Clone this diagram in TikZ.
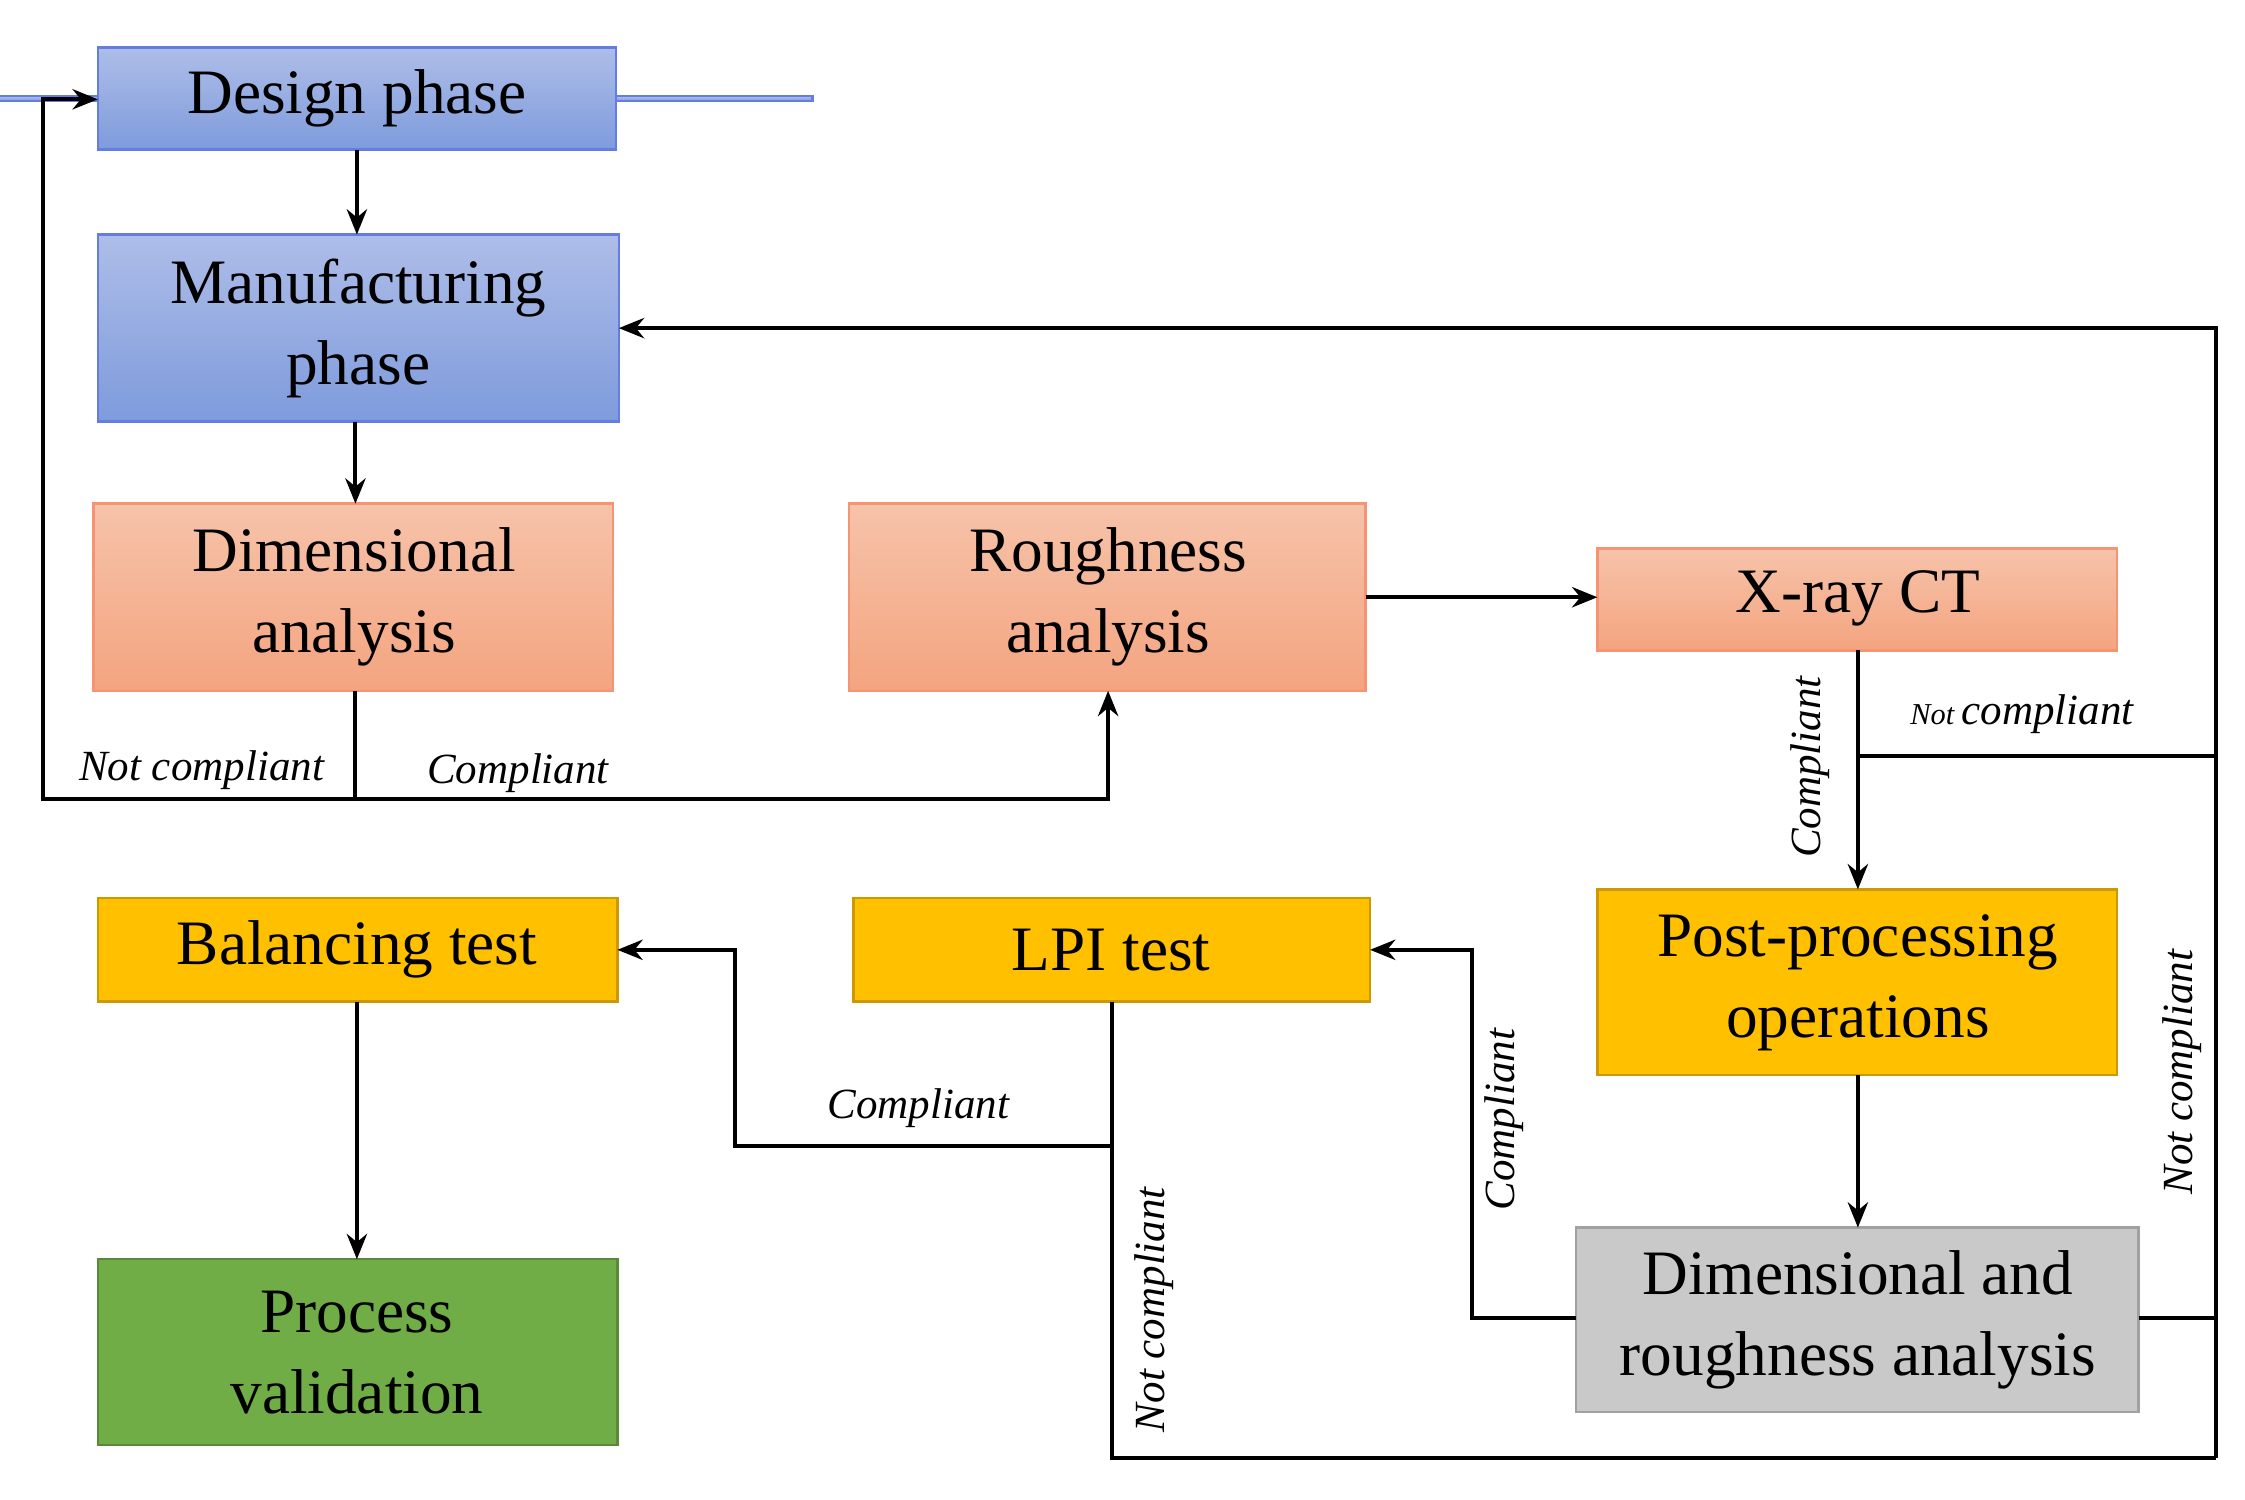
\documentclass[tikz,border=0pt]{standalone}
\usepackage{fontspec}
\setmainfont{Liberation Serif}
\usetikzlibrary{arrows.meta}
\definecolor{bluetop}{HTML}{AEBDE8}
\definecolor{bluebot}{HTML}{7E9BDC}
\definecolor{saltop}{HTML}{F6C3AA}
\definecolor{salbot}{HTML}{F4A47F}
\definecolor{yel}{HTML}{FFC000}
\definecolor{gry}{HTML}{C9C9C9}
\definecolor{grn}{HTML}{70AD47}
\begin{document}
\begin{tikzpicture}[x=0.01cm,y=-0.01cm,
  box/.style={draw, line width=0.5pt, align=center, font=\fontsize{12.5}{16}\selectfont, inner sep=0pt},
  bl/.style={box, draw=bluebot!80!blue, top color=bluetop, bottom color=bluebot},
  sa/.style={box, draw=salbot!90!red, top color=saltop, bottom color=salbot},
  ye/.style={box, draw=yel!80!black, fill=yel},
  gr/.style={box, draw=gry!80!black, fill=gry},
  gn/.style={box, draw=grn!80!black, fill=grn},
  ln/.style={line width=0.8pt},
  ar/.style={ln,-{Stealth[length=5pt,width=4pt]}},
  lab/.style={font=\fontsize{8.5}{10}\selectfont\itshape}]
\useasboundingbox (0,0) rectangle (1560,1042);
\node[bl, minimum width=360\pgflinewidth] (des) at (248,68.5) {};
\path[bl] (68,33) rectangle (428,104);
\node[font=\fontsize{12.5}{16}\selectfont] (desT) at (248,68.5) {Design phase};
\path[bl] (68,163) rectangle (430,293);
\node[align=center,font=\fontsize{12.5}{16}\selectfont] (man) at (249,228) {Manufacturing\\phase};
\path[sa] (65,350) rectangle (426,480);
\node[align=center,font=\fontsize{12.5}{16}\selectfont] (dim) at (246,415) {Dimensional\\analysis};
\path[sa] (590,350) rectangle (949,480);
\node[align=center,font=\fontsize{12.5}{16}\selectfont] (rou) at (770,415) {Roughness\\analysis};
\path[sa] (1110,381) rectangle (1471,452);
\node[font=\fontsize{12.5}{16}\selectfont] (xct) at (1291,416) {X-ray CT};
\path[ye] (1110,618) rectangle (1471,747);
\node[align=center,font=\fontsize{12.5}{16}\selectfont] (post) at (1291,683) {Post-processing\\operations};
\path[gr] (1095,853) rectangle (1486,981);
\node[align=center,font=\fontsize{12.5}{16}\selectfont] (dr) at (1291,917) {Dimensional and\\roughness analysis};
\path[ye] (593,624) rectangle (952,696);
\node[font=\fontsize{12.5}{16}\selectfont] (lpi) at (772,660) {LPI test};
\path[ye] (68,624) rectangle (429,696);
\node[font=\fontsize{12.5}{16}\selectfont] (bal) at (248,660) {Balancing test};
\path[gn] (68,875) rectangle (429,1004);
\node[align=center,font=\fontsize{12.5}{16}\selectfont] (pv) at (248,940) {Process\\validation};
% coordinates
\coordinate (desW) at (68,69); \coordinate (desS) at (248,104);
\coordinate (manN) at (248,163); \coordinate (manS) at (247,293); \coordinate (manE) at (430,228);
\coordinate (dimN) at (247,350); \coordinate (dimS) at (247,480);
\coordinate (rouS) at (770,480); \coordinate (rouE) at (949,415);
\coordinate (xctW) at (1110,415); \coordinate (xctS) at (1291,452);
\coordinate (postN) at (1291,618); \coordinate (postS) at (1291,747);
\coordinate (drN) at (1291,853); \coordinate (drE) at (1486,916); \coordinate (drW) at (1095,916);
\coordinate (lpiE) at (952,660); \coordinate (lpiS) at (773,696);
\coordinate (balE) at (429,660); \coordinate (balS) at (248,696);
\coordinate (pvN) at (248,875);
% connectors
\draw[ar] (desS) -- (manN);
\draw[ar] (manS) -- (dimN);
\draw[ar] (dimS) -- (247,555) -- (30,555) -- (30,69) -- (desW);
\draw[ar] (247,555) -- (770,555) -- (rouS);
\draw[ar] (rouE) -- (xctW);
\draw[ar] (xctS) -- (postN);
\draw[ln] (1291,525) -- (1540,525);
\draw[ar] (1540,1013) -- (1540,228) -- (manE);
\draw[ar] (postS) -- (drN);
\draw[ln] (drE) -- (1540,916);
\draw[ar] (drW) -- (1023,916) -- (1023,660) -- (lpiE);
\draw[ln] (lpiS) -- (773,1013) -- (1540,1013);
\draw[ar] (773,796) -- (511,796) -- (511,660) -- (balE);
\draw[ar] (balS) -- (pvN);
% labels
\node[lab] at (140,535) {Not compliant};
\node[lab] at (360,537) {Compliant};
\node[lab,rotate=90] at (1258,533) {Compliant};
\node[lab] at (1405,496) {{\fontsize{6}{7}\selectfont Not}\,compliant};
\node[lab,rotate=90] at (1045,778) {Compliant};
\node[lab,rotate=90] at (1516,745) {Not compliant};
\node[lab,rotate=90] at (802,910) {Not compliant};
\node[lab] at (638,770) {Compliant};
\end{tikzpicture}
\end{document}
